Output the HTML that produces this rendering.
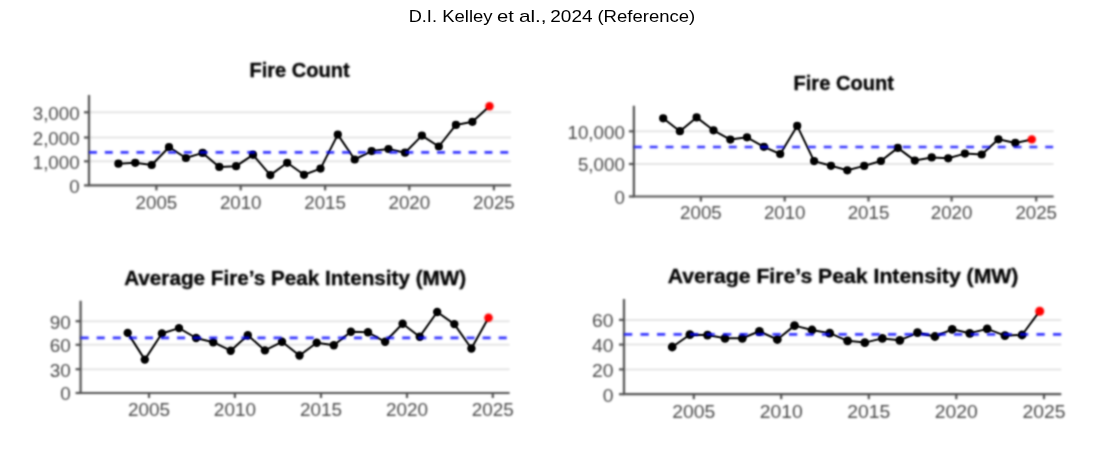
<!DOCTYPE html>
<html><head><meta charset="utf-8"><title>D.I. Kelley et al., 2024 (Reference)</title>
<style>
html,body{margin:0;padding:0;background:#fff;}
body{width:1105px;height:461px;overflow:hidden;position:relative;font-family:"Liberation Sans",sans-serif;-webkit-font-smoothing:antialiased;}
svg{position:absolute;left:0;top:0;}
svg text{font-family:"Liberation Sans",sans-serif;}
</style></head><body>
<svg width="1105" height="461" viewBox="0 0 1105 461">
<defs><filter id="bl" color-interpolation-filters="sRGB" x="0" y="40" width="1105" height="400" filterUnits="userSpaceOnUse"><feConvolveMatrix order="7" kernelMatrix="0.00002 0.00024 0.00107 0.00177 0.00107 0.00024 0.00002 0.00024 0.00292 0.01307 0.02155 0.01307 0.00292 0.00024 0.00107 0.01307 0.05858 0.09658 0.05858 0.01307 0.00107 0.00177 0.02155 0.09658 0.15924 0.09658 0.02155 0.00177 0.00107 0.01307 0.05858 0.09658 0.05858 0.01307 0.00107 0.00024 0.00292 0.01307 0.02155 0.01307 0.00292 0.00024 0.00002 0.00024 0.00107 0.00177 0.00107 0.00024 0.00002" edgeMode="none"/></filter><filter id="bd" color-interpolation-filters="sRGB" x="0" y="40" width="1105" height="400" filterUnits="userSpaceOnUse"><feConvolveMatrix order="5" kernelMatrix="0.00048 0.00501 0.01095 0.00501 0.00048 0.00501 0.05222 0.11405 0.05222 0.00501 0.01095 0.11405 0.24912 0.11405 0.01095 0.00501 0.05222 0.11405 0.05222 0.00501 0.00048 0.00501 0.01095 0.00501 0.00048" edgeMode="none"/></filter><filter id="bl2" color-interpolation-filters="sRGB" x="0" y="40" width="1105" height="400" filterUnits="userSpaceOnUse"><feConvolveMatrix order="7" kernelMatrix="0.00002 0.00024 0.00107 0.00177 0.00107 0.00024 0.00002 0.00024 0.00292 0.01307 0.02155 0.01307 0.00292 0.00024 0.00107 0.01307 0.05858 0.09658 0.05858 0.01307 0.00107 0.00177 0.02155 0.09658 0.15924 0.09658 0.02155 0.00177 0.00107 0.01307 0.05858 0.09658 0.05858 0.01307 0.00107 0.00024 0.00292 0.01307 0.02155 0.01307 0.00292 0.00024 0.00002 0.00024 0.00107 0.00177 0.00107 0.00024 0.00002" edgeMode="none"/></filter><filter id="id0" x="0" y="0" width="1105" height="40" filterUnits="userSpaceOnUse"><feOffset dx="0" dy="0"/></filter></defs>
<g filter="url(#bl)">
<rect x="0" y="40" width="1105" height="400" fill="#fff"/>
<line x1="89" y1="161.3" x2="511" y2="161.3" stroke="#e4e4e4" stroke-width="2.0"/>
<line x1="89" y1="137.5" x2="511" y2="137.5" stroke="#e4e4e4" stroke-width="2.0"/>
<line x1="89" y1="112.3" x2="511" y2="112.3" stroke="#e4e4e4" stroke-width="2.0"/>
<path d="M89 95V185.4H511" fill="none" stroke="#505050" stroke-width="2.2"/>
<line x1="84" y1="185.4" x2="89" y2="185.4" stroke="#505050" stroke-width="2.2"/>
<text transform="translate(79.6 192.69) scale(1.04 1)" text-anchor="end" font-size="18.0" fill="#484848">0</text>
<line x1="84" y1="161.3" x2="89" y2="161.3" stroke="#505050" stroke-width="2.2"/>
<text transform="translate(79.6 168.59) scale(1.04 1)" text-anchor="end" font-size="18.0" fill="#484848">1,000</text>
<line x1="84" y1="137.5" x2="89" y2="137.5" stroke="#505050" stroke-width="2.2"/>
<text transform="translate(79.6 144.79) scale(1.04 1)" text-anchor="end" font-size="18.0" fill="#484848">2,000</text>
<line x1="84" y1="112.3" x2="89" y2="112.3" stroke="#505050" stroke-width="2.2"/>
<text transform="translate(79.6 119.59) scale(1.04 1)" text-anchor="end" font-size="18.0" fill="#484848">3,000</text>
<line x1="156.4" y1="185.4" x2="156.4" y2="190.4" stroke="#505050" stroke-width="2.2"/>
<text transform="translate(156.4 208.5) scale(1.04 1)" text-anchor="middle" font-size="18.0" fill="#484848">2005</text>
<line x1="240.7" y1="185.4" x2="240.7" y2="190.4" stroke="#505050" stroke-width="2.2"/>
<text transform="translate(240.7 208.5) scale(1.04 1)" text-anchor="middle" font-size="18.0" fill="#484848">2010</text>
<line x1="325.1" y1="185.4" x2="325.1" y2="190.4" stroke="#505050" stroke-width="2.2"/>
<text transform="translate(325.1 208.5) scale(1.04 1)" text-anchor="middle" font-size="18.0" fill="#484848">2015</text>
<line x1="409.3" y1="185.4" x2="409.3" y2="190.4" stroke="#505050" stroke-width="2.2"/>
<text transform="translate(409.3 208.5) scale(1.04 1)" text-anchor="middle" font-size="18.0" fill="#484848">2020</text>
<line x1="493.9" y1="185.4" x2="493.9" y2="190.4" stroke="#505050" stroke-width="2.2"/>
<text transform="translate(493.9 208.5) scale(1.04 1)" text-anchor="middle" font-size="18.0" fill="#484848">2025</text>
<text transform="translate(299.6 76.7) scale(1.02 1)" text-anchor="middle" font-size="19.7" font-weight="bold" fill="#000" stroke="#000" stroke-width="0.3">Fire Count</text>
<line x1="633.9" y1="164" x2="1053.6" y2="164" stroke="#e4e4e4" stroke-width="2.0"/>
<line x1="633.9" y1="131.3" x2="1053.6" y2="131.3" stroke="#e4e4e4" stroke-width="2.0"/>
<path d="M633.9 105.8V196.5H1053.6" fill="none" stroke="#505050" stroke-width="2.2"/>
<line x1="628.9" y1="196.5" x2="633.9" y2="196.5" stroke="#505050" stroke-width="2.2"/>
<text transform="translate(624.8 203.79) scale(1.04 1)" text-anchor="end" font-size="18.0" fill="#484848">0</text>
<line x1="628.9" y1="164" x2="633.9" y2="164" stroke="#505050" stroke-width="2.2"/>
<text transform="translate(624.8 171.29) scale(1.04 1)" text-anchor="end" font-size="18.0" fill="#484848">5,000</text>
<line x1="628.9" y1="131.3" x2="633.9" y2="131.3" stroke="#505050" stroke-width="2.2"/>
<text transform="translate(624.8 138.59) scale(1.04 1)" text-anchor="end" font-size="18.0" fill="#484848">10,000</text>
<line x1="700.9" y1="196.5" x2="700.9" y2="201.5" stroke="#505050" stroke-width="2.2"/>
<text transform="translate(700.9 219) scale(1.04 1)" text-anchor="middle" font-size="18.0" fill="#484848">2005</text>
<line x1="784.7" y1="196.5" x2="784.7" y2="201.5" stroke="#505050" stroke-width="2.2"/>
<text transform="translate(784.7 219) scale(1.04 1)" text-anchor="middle" font-size="18.0" fill="#484848">2010</text>
<line x1="868.5" y1="196.5" x2="868.5" y2="201.5" stroke="#505050" stroke-width="2.2"/>
<text transform="translate(868.5 219) scale(1.04 1)" text-anchor="middle" font-size="18.0" fill="#484848">2015</text>
<line x1="951.6" y1="196.5" x2="951.6" y2="201.5" stroke="#505050" stroke-width="2.2"/>
<text transform="translate(951.6 219) scale(1.04 1)" text-anchor="middle" font-size="18.0" fill="#484848">2020</text>
<line x1="1036.2" y1="196.5" x2="1036.2" y2="201.5" stroke="#505050" stroke-width="2.2"/>
<text transform="translate(1036.2 219) scale(1.04 1)" text-anchor="middle" font-size="18.0" fill="#484848">2025</text>
<text transform="translate(843.7 89.5) scale(1.02 1)" text-anchor="middle" font-size="19.7" font-weight="bold" fill="#000" stroke="#000" stroke-width="0.3">Fire Count</text>
<line x1="80.6" y1="369.2" x2="509.6" y2="369.2" stroke="#e4e4e4" stroke-width="2.0"/>
<line x1="80.6" y1="344.8" x2="509.6" y2="344.8" stroke="#e4e4e4" stroke-width="2.0"/>
<line x1="80.6" y1="321.2" x2="509.6" y2="321.2" stroke="#e4e4e4" stroke-width="2.0"/>
<path d="M80.6 300.8V393H509.6" fill="none" stroke="#505050" stroke-width="2.2"/>
<line x1="75.6" y1="393" x2="80.6" y2="393" stroke="#505050" stroke-width="2.2"/>
<text transform="translate(70.8 400.36) scale(1.04 1)" text-anchor="end" font-size="18.2" fill="#484848">0</text>
<line x1="75.6" y1="369.2" x2="80.6" y2="369.2" stroke="#505050" stroke-width="2.2"/>
<text transform="translate(70.8 376.56) scale(1.04 1)" text-anchor="end" font-size="18.2" fill="#484848">30</text>
<line x1="75.6" y1="344.8" x2="80.6" y2="344.8" stroke="#505050" stroke-width="2.2"/>
<text transform="translate(70.8 352.16) scale(1.04 1)" text-anchor="end" font-size="18.2" fill="#484848">60</text>
<line x1="75.6" y1="321.2" x2="80.6" y2="321.2" stroke="#505050" stroke-width="2.2"/>
<text transform="translate(70.8 328.56) scale(1.04 1)" text-anchor="end" font-size="18.2" fill="#484848">90</text>
<line x1="149" y1="393" x2="149" y2="398" stroke="#505050" stroke-width="2.2"/>
<text transform="translate(149 416.2) scale(1.04 1)" text-anchor="middle" font-size="18.2" fill="#484848">2005</text>
<line x1="234.9" y1="393" x2="234.9" y2="398" stroke="#505050" stroke-width="2.2"/>
<text transform="translate(234.9 416.2) scale(1.04 1)" text-anchor="middle" font-size="18.2" fill="#484848">2010</text>
<line x1="321" y1="393" x2="321" y2="398" stroke="#505050" stroke-width="2.2"/>
<text transform="translate(321 416.2) scale(1.04 1)" text-anchor="middle" font-size="18.2" fill="#484848">2015</text>
<line x1="407" y1="393" x2="407" y2="398" stroke="#505050" stroke-width="2.2"/>
<text transform="translate(407 416.2) scale(1.04 1)" text-anchor="middle" font-size="18.2" fill="#484848">2020</text>
<line x1="492.8" y1="393" x2="492.8" y2="398" stroke="#505050" stroke-width="2.2"/>
<text transform="translate(492.8 416.2) scale(1.04 1)" text-anchor="middle" font-size="18.2" fill="#484848">2025</text>
<text transform="translate(295.2 284.8) scale(1.05 1)" text-anchor="middle" font-size="19.7" font-weight="bold" fill="#000" stroke="#000" stroke-width="0.3">Average Fire’s Peak Intensity (MW)</text>
<line x1="624" y1="369.4" x2="1061.3" y2="369.4" stroke="#e4e4e4" stroke-width="2.0"/>
<line x1="624" y1="344.6" x2="1061.3" y2="344.6" stroke="#e4e4e4" stroke-width="2.0"/>
<line x1="624" y1="319.9" x2="1061.3" y2="319.9" stroke="#e4e4e4" stroke-width="2.0"/>
<path d="M624 299.1V394.2H1061.3" fill="none" stroke="#505050" stroke-width="2.2"/>
<line x1="619" y1="394.2" x2="624" y2="394.2" stroke="#505050" stroke-width="2.2"/>
<text transform="translate(613.5 401.7) scale(1.04 1)" text-anchor="end" font-size="18.6" fill="#484848">0</text>
<line x1="619" y1="369.4" x2="624" y2="369.4" stroke="#505050" stroke-width="2.2"/>
<text transform="translate(613.5 376.9) scale(1.04 1)" text-anchor="end" font-size="18.6" fill="#484848">20</text>
<line x1="619" y1="344.6" x2="624" y2="344.6" stroke="#505050" stroke-width="2.2"/>
<text transform="translate(613.5 352.1) scale(1.04 1)" text-anchor="end" font-size="18.6" fill="#484848">40</text>
<line x1="619" y1="319.9" x2="624" y2="319.9" stroke="#505050" stroke-width="2.2"/>
<text transform="translate(613.5 327.4) scale(1.04 1)" text-anchor="end" font-size="18.6" fill="#484848">60</text>
<line x1="693.8" y1="394.2" x2="693.8" y2="399.2" stroke="#505050" stroke-width="2.2"/>
<text transform="translate(693.8 418) scale(1.04 1)" text-anchor="middle" font-size="18.6" fill="#484848">2005</text>
<line x1="781.2" y1="394.2" x2="781.2" y2="399.2" stroke="#505050" stroke-width="2.2"/>
<text transform="translate(781.2 418) scale(1.04 1)" text-anchor="middle" font-size="18.6" fill="#484848">2010</text>
<line x1="868.8" y1="394.2" x2="868.8" y2="399.2" stroke="#505050" stroke-width="2.2"/>
<text transform="translate(868.8 418) scale(1.04 1)" text-anchor="middle" font-size="18.6" fill="#484848">2015</text>
<line x1="956.3" y1="394.2" x2="956.3" y2="399.2" stroke="#505050" stroke-width="2.2"/>
<text transform="translate(956.3 418) scale(1.04 1)" text-anchor="middle" font-size="18.6" fill="#484848">2020</text>
<line x1="1044" y1="394.2" x2="1044" y2="399.2" stroke="#505050" stroke-width="2.2"/>
<text transform="translate(1044 418) scale(1.04 1)" text-anchor="middle" font-size="18.6" fill="#484848">2025</text>
<text transform="translate(843 283) scale(1.05 1)" text-anchor="middle" font-size="20.2" font-weight="bold" fill="#000" stroke="#000" stroke-width="0.3">Average Fire’s Peak Intensity (MW)</text>
</g>
<g filter="url(#bd)">
<path d="M118.4 163.7 L135.2 162.8 L151.7 165 L169 147.2 L185.9 158 L202.6 152.9 L219.3 166.9 L236.1 166.2 L253 154.8 L270.3 175.1 L287.2 162.8 L304 174.8 L320.5 168.6 L337.8 134.6 L354.7 159.5 L371.6 151.1 L388.5 149 L405 152.7 L421.9 135.6 L438.8 146.5 L455.9 124.9 L472.4 121.8 L489.5 106.2" fill="none" stroke="#000" stroke-width="2.0" stroke-linejoin="round"/>
<circle cx="118.4" cy="163.7" r="4.1" fill="#000"/>
<circle cx="135.2" cy="162.8" r="4.1" fill="#000"/>
<circle cx="151.7" cy="165" r="4.1" fill="#000"/>
<circle cx="169" cy="147.2" r="4.1" fill="#000"/>
<circle cx="185.9" cy="158" r="4.1" fill="#000"/>
<circle cx="202.6" cy="152.9" r="4.1" fill="#000"/>
<circle cx="219.3" cy="166.9" r="4.1" fill="#000"/>
<circle cx="236.1" cy="166.2" r="4.1" fill="#000"/>
<circle cx="253" cy="154.8" r="4.1" fill="#000"/>
<circle cx="270.3" cy="175.1" r="4.1" fill="#000"/>
<circle cx="287.2" cy="162.8" r="4.1" fill="#000"/>
<circle cx="304" cy="174.8" r="4.1" fill="#000"/>
<circle cx="320.5" cy="168.6" r="4.1" fill="#000"/>
<circle cx="337.8" cy="134.6" r="4.1" fill="#000"/>
<circle cx="354.7" cy="159.5" r="4.1" fill="#000"/>
<circle cx="371.6" cy="151.1" r="4.1" fill="#000"/>
<circle cx="388.5" cy="149" r="4.1" fill="#000"/>
<circle cx="405" cy="152.7" r="4.1" fill="#000"/>
<circle cx="421.9" cy="135.6" r="4.1" fill="#000"/>
<circle cx="438.8" cy="146.5" r="4.1" fill="#000"/>
<circle cx="455.9" cy="124.9" r="4.1" fill="#000"/>
<circle cx="472.4" cy="121.8" r="4.1" fill="#000"/>
<path d="M663.2 118.3 L679.9 131.2 L696.6 117.4 L713.5 130.3 L730.3 139.6 L747 137.3 L763.9 146.8 L780.2 154 L797.2 125.9 L814.1 161.1 L831 165.8 L847.3 170.3 L864.2 165.9 L880.9 161 L897.8 147.9 L914.8 160.6 L931.7 157.4 L948.2 158.3 L964.9 153.6 L981.7 154.5 L998.4 139.3 L1015.3 142.9 L1031.8 139.4" fill="none" stroke="#000" stroke-width="2.0" stroke-linejoin="round"/>
<circle cx="663.2" cy="118.3" r="4.1" fill="#000"/>
<circle cx="679.9" cy="131.2" r="4.1" fill="#000"/>
<circle cx="696.6" cy="117.4" r="4.1" fill="#000"/>
<circle cx="713.5" cy="130.3" r="4.1" fill="#000"/>
<circle cx="730.3" cy="139.6" r="4.1" fill="#000"/>
<circle cx="747" cy="137.3" r="4.1" fill="#000"/>
<circle cx="763.9" cy="146.8" r="4.1" fill="#000"/>
<circle cx="780.2" cy="154" r="4.1" fill="#000"/>
<circle cx="797.2" cy="125.9" r="4.1" fill="#000"/>
<circle cx="814.1" cy="161.1" r="4.1" fill="#000"/>
<circle cx="831" cy="165.8" r="4.1" fill="#000"/>
<circle cx="847.3" cy="170.3" r="4.1" fill="#000"/>
<circle cx="864.2" cy="165.9" r="4.1" fill="#000"/>
<circle cx="880.9" cy="161" r="4.1" fill="#000"/>
<circle cx="897.8" cy="147.9" r="4.1" fill="#000"/>
<circle cx="914.8" cy="160.6" r="4.1" fill="#000"/>
<circle cx="931.7" cy="157.4" r="4.1" fill="#000"/>
<circle cx="948.2" cy="158.3" r="4.1" fill="#000"/>
<circle cx="964.9" cy="153.6" r="4.1" fill="#000"/>
<circle cx="981.7" cy="154.5" r="4.1" fill="#000"/>
<circle cx="998.4" cy="139.3" r="4.1" fill="#000"/>
<circle cx="1015.3" cy="142.9" r="4.1" fill="#000"/>
<path d="M127.7 332.9 L144.8 359.6 L161.9 333.5 L179 328.1 L196.1 338 L213.2 342.2 L230.7 350.7 L247.8 335.2 L264.9 350.4 L282 341.8 L299.5 355.5 L316.7 342.8 L333.8 345.2 L350.9 331.7 L368 332.3 L385.1 341.8 L402.6 323.8 L419.7 336.7 L437.2 312 L454.3 324.1 L471.4 348.5 L488.5 317.8" fill="none" stroke="#000" stroke-width="2.0" stroke-linejoin="round"/>
<circle cx="127.7" cy="332.9" r="4.2" fill="#000"/>
<circle cx="144.8" cy="359.6" r="4.2" fill="#000"/>
<circle cx="161.9" cy="333.5" r="4.2" fill="#000"/>
<circle cx="179" cy="328.1" r="4.2" fill="#000"/>
<circle cx="196.1" cy="338" r="4.2" fill="#000"/>
<circle cx="213.2" cy="342.2" r="4.2" fill="#000"/>
<circle cx="230.7" cy="350.7" r="4.2" fill="#000"/>
<circle cx="247.8" cy="335.2" r="4.2" fill="#000"/>
<circle cx="264.9" cy="350.4" r="4.2" fill="#000"/>
<circle cx="282" cy="341.8" r="4.2" fill="#000"/>
<circle cx="299.5" cy="355.5" r="4.2" fill="#000"/>
<circle cx="316.7" cy="342.8" r="4.2" fill="#000"/>
<circle cx="333.8" cy="345.2" r="4.2" fill="#000"/>
<circle cx="350.9" cy="331.7" r="4.2" fill="#000"/>
<circle cx="368" cy="332.3" r="4.2" fill="#000"/>
<circle cx="385.1" cy="341.8" r="4.2" fill="#000"/>
<circle cx="402.6" cy="323.8" r="4.2" fill="#000"/>
<circle cx="419.7" cy="336.7" r="4.2" fill="#000"/>
<circle cx="437.2" cy="312" r="4.2" fill="#000"/>
<circle cx="454.3" cy="324.1" r="4.2" fill="#000"/>
<circle cx="471.4" cy="348.5" r="4.2" fill="#000"/>
<path d="M672.2 347 L689.8 334.7 L707.5 335.1 L725 338.3 L742.3 338.3 L759.4 331.3 L777.3 339.5 L794.5 325.6 L812 330 L829.7 333.2 L847.6 340.8 L864.8 342.6 L882.3 338.4 L899.8 340.3 L917.5 332.7 L934.9 336.5 L952.2 329.3 L969.7 333.3 L987.2 328.9 L1004.9 335.6 L1022 335 L1039.7 311.2" fill="none" stroke="#000" stroke-width="2.0" stroke-linejoin="round"/>
<circle cx="672.2" cy="347" r="4.4" fill="#000"/>
<circle cx="689.8" cy="334.7" r="4.4" fill="#000"/>
<circle cx="707.5" cy="335.1" r="4.4" fill="#000"/>
<circle cx="725" cy="338.3" r="4.4" fill="#000"/>
<circle cx="742.3" cy="338.3" r="4.4" fill="#000"/>
<circle cx="759.4" cy="331.3" r="4.4" fill="#000"/>
<circle cx="777.3" cy="339.5" r="4.4" fill="#000"/>
<circle cx="794.5" cy="325.6" r="4.4" fill="#000"/>
<circle cx="812" cy="330" r="4.4" fill="#000"/>
<circle cx="829.7" cy="333.2" r="4.4" fill="#000"/>
<circle cx="847.6" cy="340.8" r="4.4" fill="#000"/>
<circle cx="864.8" cy="342.6" r="4.4" fill="#000"/>
<circle cx="882.3" cy="338.4" r="4.4" fill="#000"/>
<circle cx="899.8" cy="340.3" r="4.4" fill="#000"/>
<circle cx="917.5" cy="332.7" r="4.4" fill="#000"/>
<circle cx="934.9" cy="336.5" r="4.4" fill="#000"/>
<circle cx="952.2" cy="329.3" r="4.4" fill="#000"/>
<circle cx="969.7" cy="333.3" r="4.4" fill="#000"/>
<circle cx="987.2" cy="328.9" r="4.4" fill="#000"/>
<circle cx="1004.9" cy="335.6" r="4.4" fill="#000"/>
<circle cx="1022" cy="335" r="4.4" fill="#000"/>
</g>
<g filter="url(#bl2)">
<line x1="89" y1="152.3" x2="511" y2="152.3" stroke="#0000ff" stroke-opacity="0.8" stroke-width="2.7" stroke-dasharray="7.91 7.91"/>
<line x1="633.9" y1="147" x2="1053.6" y2="147" stroke="#0000ff" stroke-opacity="0.8" stroke-width="2.7" stroke-dasharray="7.91 7.91"/>
<line x1="80.6" y1="337.8" x2="509.6" y2="337.8" stroke="#0000ff" stroke-opacity="0.8" stroke-width="2.7" stroke-dasharray="8.04 8.04"/>
<line x1="624" y1="334.3" x2="1061.3" y2="334.3" stroke="#0000ff" stroke-opacity="0.8" stroke-width="2.7" stroke-dasharray="8.25 8.25"/>
<circle cx="489.5" cy="106.2" r="4.199999999999999" fill="#ff0000"/>
<circle cx="1031.8" cy="139.4" r="4.199999999999999" fill="#ff0000"/>
<circle cx="488.5" cy="317.8" r="4.3" fill="#ff0000"/>
<circle cx="1039.7" cy="311.2" r="4.5" fill="#ff0000"/>
</g>
<g filter="url(#id0)"><text x="408.67" y="22.0" font-size="17" fill="#000" textLength="28.28" lengthAdjust="spacingAndGlyphs">D.I.</text><text x="442.19" y="22.0" font-size="17" fill="#000" textLength="50.37" lengthAdjust="spacingAndGlyphs">Kelley</text><text x="496.94" y="22.0" font-size="17" fill="#000" textLength="16.88" lengthAdjust="spacingAndGlyphs">et</text><text x="518.97" y="22.0" font-size="17" fill="#000" textLength="27.64" lengthAdjust="spacingAndGlyphs">al.,</text><text x="550.28" y="22.0" font-size="17" fill="#000" textLength="42.25" lengthAdjust="spacingAndGlyphs">2024</text><text x="597.44" y="22.0" font-size="17" fill="#000" textLength="97.81" lengthAdjust="spacingAndGlyphs">(Reference)</text></g>
</svg>
</body></html>
